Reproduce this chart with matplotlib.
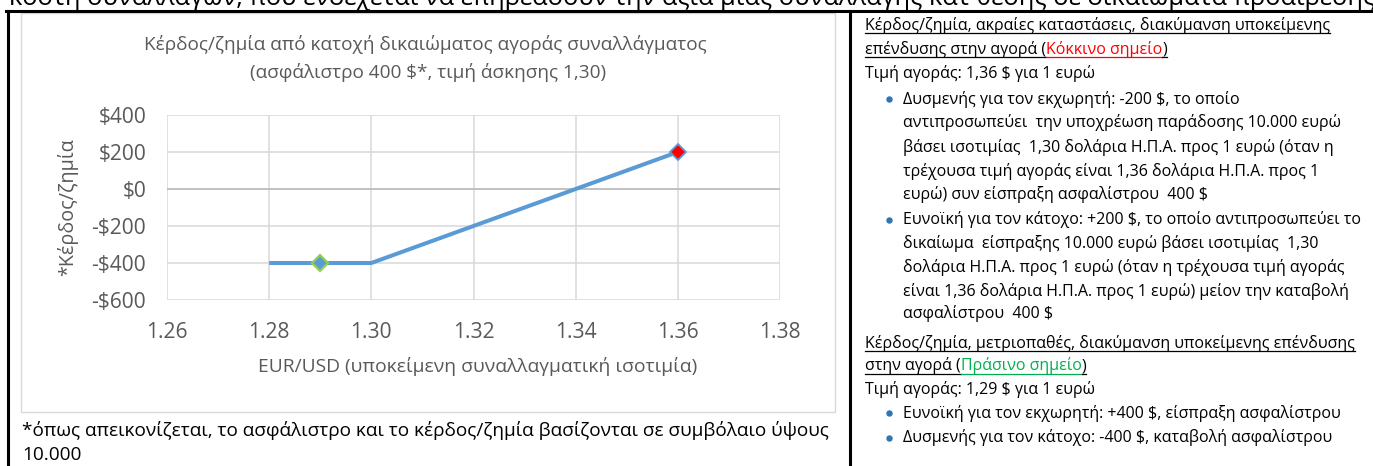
import matplotlib
matplotlib.use('Agg')
import matplotlib.pyplot as plt
from matplotlib.lines import Line2D
from matplotlib.patches import Rectangle

# ---------------- data ----------------
rate = [1.28, 1.30, 1.36]
pnl = [-400, -400, 200]
green_pt_x, green_pt_y = [1.29], [-400]
red_pt_x, red_pt_y = [1.36], [200]
x_ticks = [1.26, 1.28, 1.30, 1.32, 1.34, 1.36, 1.38]
y_ticks = [-600, -400, -200, 0, 200, 400]

title_lines = ["Κέρδος/ζημία από κατοχή δικαιώματος αγοράς συναλλάγματος",
               "(ασφάλιστρο 400 $*, τιμή άσκησης 1,30)"]
x_label = "EUR/USD (υποκείμενη συναλλαγματική ισοτιμία)"
y_label = "*Κέρδος/ζημία"
footnote = ["*όπως απεικονίζεται, το ασφάλιστρο και το κέρδος/ζημία βασίζονται σε συμβόλαιο ύψους",
            "10.000"]
top_text = "κόστη συναλλαγών, που ενδέχεται να επηρεάσουν την αξία μιας συναλλαγής κατ θέσης σε δικαιώματα προαίρεσης"

# right panel: list of (segments, bullet) ; segment = (text, kind) kind: 'u' underline, 'r' red underline, 'g' green underline, '' plain
panel_text = [
    ([("Κέρδος/ζημία, ακραίες καταστάσεις, διακύμανση υποκείμενης", 'u')], False),
    ([("επένδυσης στην αγορά (", 'u'), ("Κόκκινο σημείο", 'r'), (")", 'u')], False),
    ([("Τιμή αγοράς: 1,36 $ για 1 ευρώ", '')], False),
    ([("Δυσμενής για τον εκχωρητή: -200 $, το οποίο", '')], True),
    ([("αντιπροσωπεύει  την υποχρέωση παράδοσης 10.000 ευρώ", '')], None),
    ([("βάσει ισοτιμίας  1,30 δολάρια Η.Π.Α. προς 1 ευρώ (όταν η", '')], None),
    ([("τρέχουσα τιμή αγοράς είναι 1,36 δολάρια Η.Π.Α. προς 1", '')], None),
    ([("ευρώ) συν είσπραξη ασφαλίστρου  400 $", '')], None),
    ([("Ευνοϊκή για τον κάτοχο: +200 $, το οποίο αντιπροσωπεύει το", '')], True),
    ([("δικαίωμα  είσπραξης 10.000 ευρώ βάσει ισοτιμίας  1,30", '')], None),
    ([("δολάρια Η.Π.Α. προς 1 ευρώ (όταν η τρέχουσα τιμή αγοράς", '')], None),
    ([("είναι 1,36 δολάρια Η.Π.Α. προς 1 ευρώ) μείον την καταβολή", '')], None),
    ([("ασφαλίστρου  400 $", '')], None),
    ([("Κέρδος/ζημία, μετριοπαθές, διακύμανση υποκείμενης επένδυσης", 'u')], False),
    ([("στην αγορά (", 'u'), ("Πράσινο σημείο", 'g'), (")", 'u')], False),
    ([("Τιμή αγοράς: 1,29 $ για 1 ευρώ", '')], False),
    ([("Ευνοϊκή για τον εκχωρητή: +400 $, είσπραξη ασφαλίστρου", '')], True),
    ([("Δυσμενής για τον κάτοχο: -400 $, καταβολή ασφαλίστρου", '')], True),
]
panel_y = [25, 49, 73, 99, 123, 147, 171, 195, 220, 244, 268, 291, 313, 343, 366, 389, 413, 438]

# ---------------- layout ----------------
W, H = 1373, 466
FAM = ['Open Sans', 'DejaVu Sans']
GREY = '#595959'

fig = plt.figure(figsize=(W / 100, H / 100), dpi=100)
fig.patch.set_facecolor('white')
renderer = fig.canvas.get_renderer()


def fx(x):
    return x / W


def fy(y):
    return 1 - y / H


def width_px(text, size, **kw):
    t = fig.text(0, 0, text, fontsize=size, family=FAM, **kw)
    w = t.get_window_extent(renderer).width
    t.remove()
    return w


def fit(text, target, base=20.0, **kw):
    return base * target / width_px(text, base, **kw)


# table borders
fig.add_artist(Line2D([fx(6), fx(1373)], [fy(11), fy(11)], color='black', lw=2.2))
fig.add_artist(Line2D([fx(8), fx(8)], [fy(11), fy(466)], color='black', lw=2.2))
fig.add_artist(Line2D([fx(850), fx(850)], [fy(11), fy(466)], color='black', lw=2.2))

# chart frame (behind the axes)
frame = Rectangle((fx(21), fy(412)), (835 - 21) / W, (412 - 13) / H,
                  facecolor='none', edgecolor='#D9D9D9', lw=1.0, zorder=-5)
fig.add_artist(frame)

# clipped top text (cut by the page edge as in the source)
ts = fit(top_text, 1366)
fig.text(fx(9), fy(5), top_text, fontsize=ts, family=FAM, color='black',
         ha='left', va='baseline')

# axes
ax = fig.add_axes([fx(167), fy(300), (780 - 167) / W, (300 - 115) / H])
ax.set_facecolor('none')
ax.set_zorder(2)
ax.set_xlim(1.26, 1.38)
ax.set_ylim(-600, 400)
ax.set_xticks(x_ticks)
ax.set_xticklabels([f"{v:.2f}" for v in x_ticks])
ax.set_yticks(y_ticks)
ax.set_yticklabels([("-$" if v < 0 else "$") + f"{abs(v)}" for v in y_ticks])
for s in ax.spines.values():
    s.set_visible(False)
ax.set_axisbelow(True)
ax.grid(True, color='#D9D9D9', lw=1.1)
ax.axhline(0, color='#BFBFBF', lw=1.3, zorder=1)
tick_size = fit("-$600", 55)
ax.tick_params(length=0, labelsize=tick_size, labelcolor=GREY)
ax.tick_params(axis='y', pad=15)
ax.tick_params(axis='x', pad=16)
for lab in ax.get_xticklabels() + ax.get_yticklabels():
    lab.set_family(FAM)

ax.plot(rate, pnl, color='#5B9BD5', lw=2.9, solid_capstyle='butt', zorder=3)
ax.plot(green_pt_x, green_pt_y, marker='D', ms=8.5, mfc='#5B9BD5', mec='#92D050',
        mew=1.6, ls='none', zorder=4)
ax.plot(red_pt_x, red_pt_y, marker='D', ms=8.5, mfc='#FF0000', mec='#5B9BD5',
        mew=1.3, ls='none', zorder=4)

xl_size = fit(x_label, 438)
ax.set_xlabel(x_label, fontsize=xl_size, color=GREY, family=FAM, va='center')
ax.xaxis.set_label_coords((478 - 167) / 613, (300 - 367) / 185)
yl_size = fit(y_label, 137)
ax.set_ylabel(y_label, fontsize=yl_size, color=GREY, family=FAM, va='center')
ax.yaxis.set_label_coords((68 - 167) / 613, 0.5)

# title
t_size = fit(title_lines[0], 562)
fig.text(fx(425), fy(45), title_lines[0], fontsize=t_size, family=FAM, color=GREY,
         ha='center', va='center')
fig.text(fx(428), fy(73), title_lines[1], fontsize=t_size, family=FAM, color=GREY,
         ha='center', va='center')

# footnote
f_size = fit(footnote[0], 810)
fig.text(fx(22), fy(430), footnote[0], fontsize=f_size, family=FAM, color='black',
         ha='left', va='center')
fig.text(fx(22), fy(455), footnote[1], fontsize=f_size, family=FAM, color='black',
         ha='left', va='center')

# right panel
p_size = fit("Ευνοϊκή για τον κάτοχο: +200 $, το οποίο αντιπροσωπεύει το", 460)
colors = {'': 'black', 'u': 'black', 'r': '#FF0000', 'g': '#00B050'}
for (segs, bullet), yc in zip(panel_text, panel_y):
    x = 865 if bullet is False else 903
    base = yc + 4.5
    if bullet:
        fig.add_artist(Line2D([fx(889)], [fy(yc)], marker='o', ms=3.6,
                              color='#2E75B6', ls='none'))
    for txt, kind in segs:
        t = fig.text(fx(x), fy(base), txt, fontsize=p_size, family=FAM,
                     color=colors[kind], ha='left', va='baseline')
        w = t.get_window_extent(renderer).width
        if kind:
            fig.add_artist(Line2D([fx(x), fx(x + w)], [fy(base + 3), fy(base + 3)],
                                  color=colors[kind], lw=0.9))
        x += w

fig.savefig('out.png', dpi=100, facecolor='white')
